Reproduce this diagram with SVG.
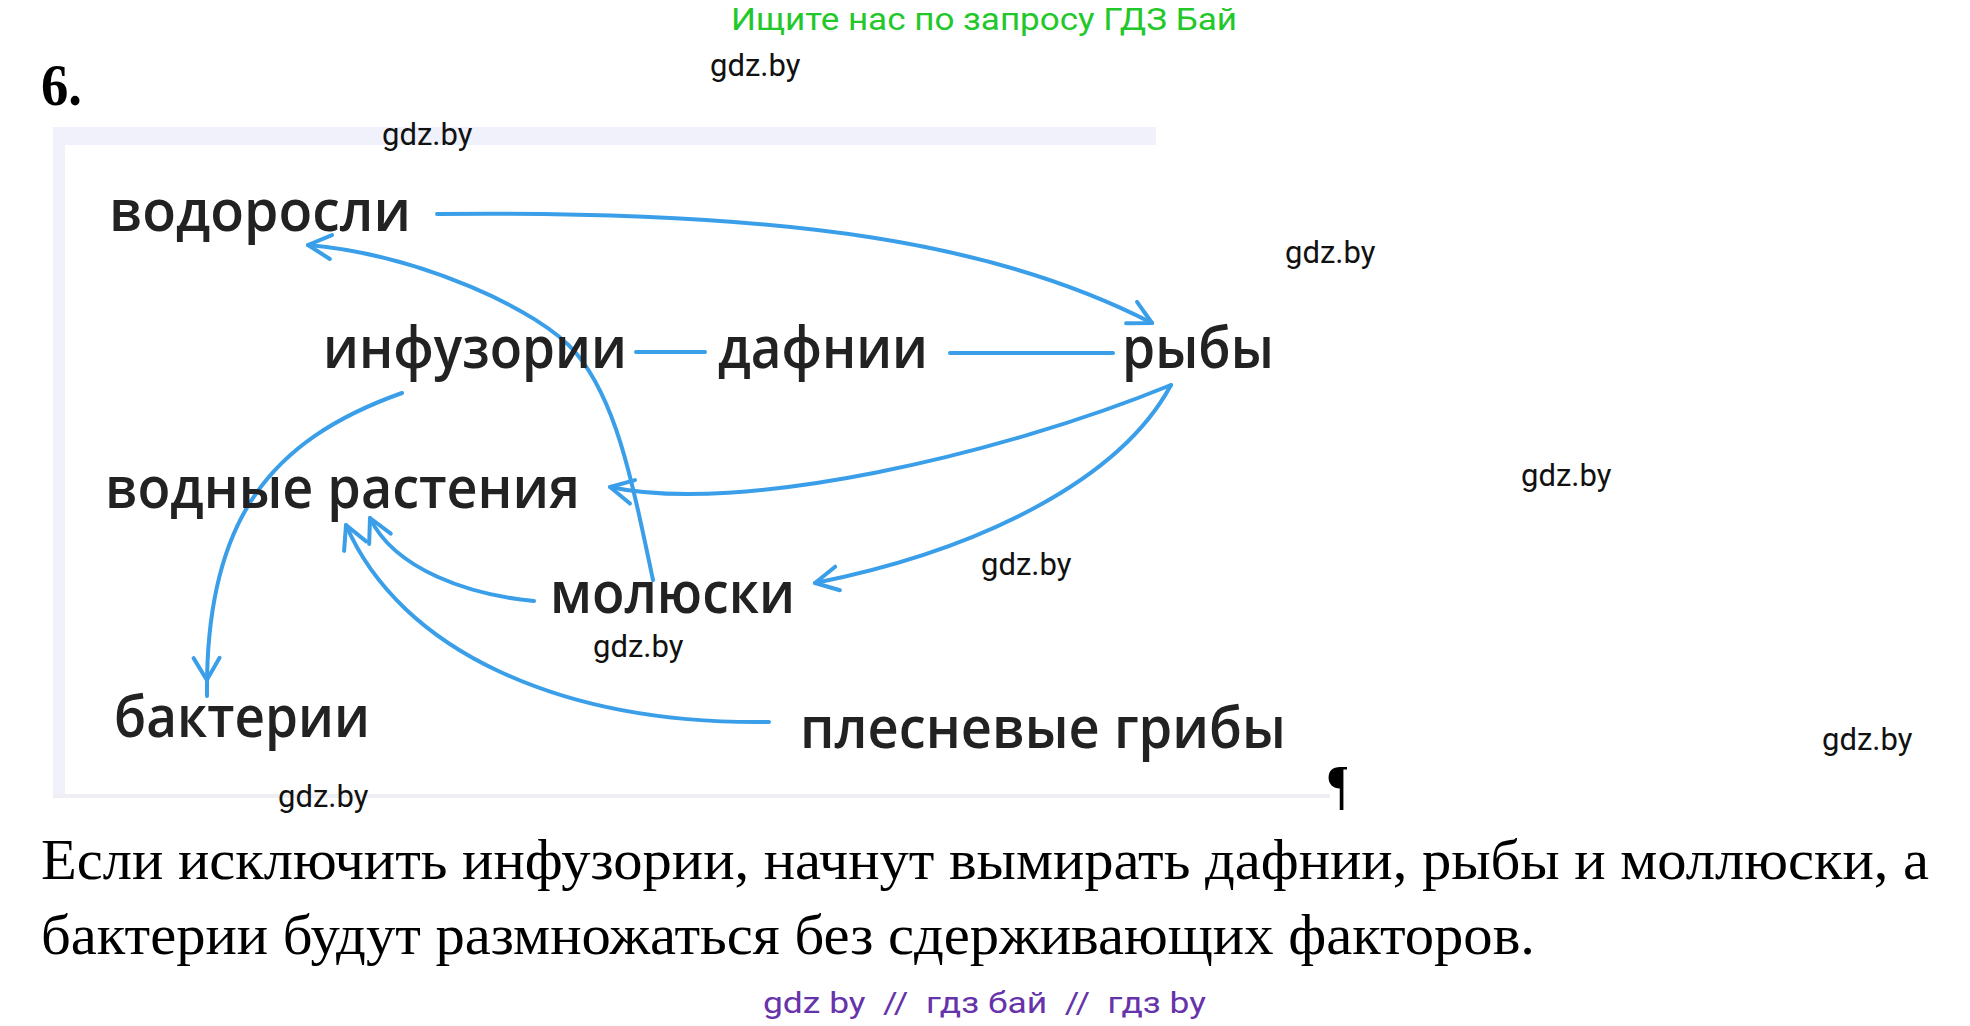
<svg xmlns="http://www.w3.org/2000/svg" width="1970" height="1026" viewBox="0 0 1970 1026">
<style>
.node{font-family:"Open Sans","DejaVu Sans",sans-serif;font-size:57px;font-weight:600;fill:#222}
.wm{font-family:Roboto,"Liberation Sans",sans-serif;font-size:31px;fill:#111}
.para{font-family:"Liberation Serif","Times New Roman",serif;font-size:58px;fill:#000}
.conn{fill:none;stroke:#3a9fe8;stroke-width:4;stroke-linecap:round;stroke-linejoin:round}
.frame{fill:#f0f1fb}
</style>
<defs>
<marker id="ah" markerUnits="userSpaceOnUse" orient="auto" markerWidth="60" markerHeight="60" refX="0" refY="0" overflow="visible">
<path d="M-23,-12 L0,0 L-23,12" class="conn"/>
</marker>
<marker id="ahOver" markerUnits="userSpaceOnUse" orient="auto" markerWidth="60" markerHeight="60" refX="16" refY="0" overflow="visible">
<path d="M-22,-13 L0,0 L-22,13" class="conn"/>
</marker>
<clipPath id="pilClip"><rect x="1300" y="740" width="47" height="90"/></clipPath>
</defs>
<rect width="1970" height="1026" fill="#fff"/>

<g id="frame">
<rect class="frame" x="53" y="127" width="1103" height="18"/>
<rect class="frame" x="53" y="127" width="12" height="668"/>
<rect x="53" y="794" width="1277" height="4" fill="#eeeef3"/>
<text x="1326" y="803" clip-path="url(#pilClip)" style="font-family:'Liberation Serif',serif;font-size:54px;font-weight:bold;fill:#000">¶</text>
</g>

<g id="header">
<text x="731" y="30" textLength="506" lengthAdjust="spacingAndGlyphs" style="font-family:Roboto,'Liberation Sans',sans-serif;font-size:32px;fill:#22c82a">Ищите нас по запросу ГДЗ Бай</text>
<text x="41" y="105" textLength="41" lengthAdjust="spacingAndGlyphs" style="font-family:'Liberation Serif',serif;font-size:60px;font-weight:bold;fill:#000">6.</text>
</g>

<g id="connectors">
<path class="conn" d="M437,214 C800,210 1000,245 1152,323" marker-end="url(#ah)"/>
<path class="conn" d="M653,580 C630,470 615,400 576,353 C540,310 420,255 308,245" marker-end="url(#ah)"/>
<path class="conn" d="M636,352 L705,352"/>
<path class="conn" d="M950,353 L1113,353"/>
<path class="conn" d="M1171,385 C1000,455 740,515 610,487" marker-end="url(#ah)"/>
<path class="conn" d="M1171,385 C1120,480 980,550 815,583" marker-end="url(#ah)"/>
<path class="conn" d="M534,601 C470,595 395,570 370,518" marker-end="url(#ah)"/>
<path class="conn" d="M769,722 C560,725 400,650 346,525" marker-end="url(#ah)"/>
<path class="conn" d="M402,393 C270,440 205,520 207,696" marker-end="url(#ahOver)"/>
</g>

<g id="node-vodorosli"><text class="node" x="109" y="231" textLength="302" lengthAdjust="spacingAndGlyphs">водоросли</text></g>
<g id="node-infuzorii"><text class="node" x="323" y="368" textLength="304" lengthAdjust="spacingAndGlyphs">инфузории</text></g>
<g id="node-dafnii"><text class="node" x="718" y="368" textLength="210" lengthAdjust="spacingAndGlyphs">дафнии</text></g>
<g id="node-ryby"><text class="node" x="1122" y="368" textLength="152" lengthAdjust="spacingAndGlyphs">рыбы</text></g>
<g id="node-vodnye-rasteniya"><text class="node" x="105" y="508" textLength="475" lengthAdjust="spacingAndGlyphs">водные растения</text></g>
<g id="node-molyuski"><text class="node" x="550" y="613" textLength="245" lengthAdjust="spacingAndGlyphs">молюски</text></g>
<g id="node-bakterii"><text class="node" x="114" y="737" textLength="256" lengthAdjust="spacingAndGlyphs">бактерии</text></g>
<g id="node-plesnevye-griby"><text class="node" x="800" y="748" textLength="486" lengthAdjust="spacingAndGlyphs">плесневые грибы</text></g>

<g id="watermarks">
<text class="wm" x="710" y="76">gdz.by</text>
<text class="wm" x="382" y="145">gdz.by</text>
<text class="wm" x="1285" y="263">gdz.by</text>
<text class="wm" x="1521" y="486">gdz.by</text>
<text class="wm" x="981" y="575">gdz.by</text>
<text class="wm" x="593" y="657">gdz.by</text>
<text class="wm" x="1822" y="750">gdz.by</text>
<text class="wm" x="278" y="807">gdz.by</text>
</g>

<g id="answer">
<text class="para" x="41" y="879" textLength="1888" lengthAdjust="spacingAndGlyphs">Если исключить инфузории, начнут вымирать дафнии, рыбы и моллюски, а</text>
<text class="para" x="41" y="954" textLength="1494" lengthAdjust="spacingAndGlyphs">бактерии будут размножаться без сдерживающих факторов.</text>
</g>

<g id="footer">
<text x="763" y="1013" textLength="443" lengthAdjust="spacingAndGlyphs" style="font-family:Roboto,'Liberation Sans',sans-serif;font-size:30px;fill:#6633aa;white-space:pre">gdz by  //  гдз бай  //  гдз by</text>
</g>
</svg>
